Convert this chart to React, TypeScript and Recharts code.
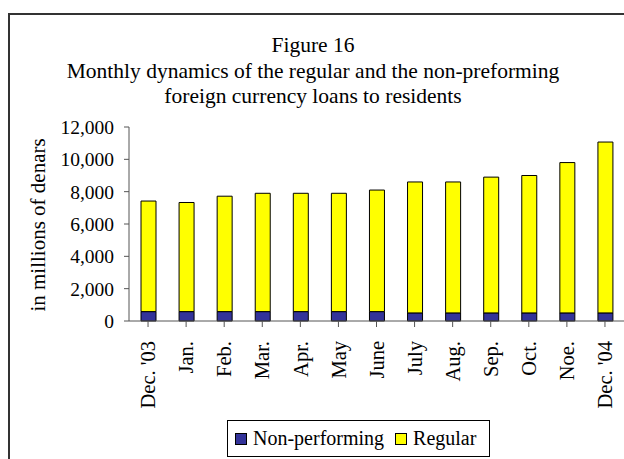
import { BarChart, Bar, XAxis, YAxis } from 'recharts';

const months = [
  "Dec. '03", 'Jan.', 'Feb.', 'Mar.', 'Apr.', 'May', 'June',
  'July', 'Aug.', 'Sep.', 'Oct.', 'Noe.', "Dec. '04",
];
const nonPerforming = [580, 580, 580, 580, 580, 580, 580, 500, 500, 500, 500, 500, 500];
const regular = [6840, 6750, 7140, 7320, 7320, 7320, 7520, 8100, 8100, 8400, 8500, 9300, 10570];
const yTicks = [0, 2000, 4000, 6000, 8000, 10000, 12000];

const data = months.map((month, i) => ({
  month,
  nonPerforming: nonPerforming[i],
  regular: regular[i],
}));

const FONT = '"Liberation Serif", "Times New Roman", serif';

const MonthTick = (props: any) => {
  const { x, y, payload } = props;
  return (
    <text
      x={x}
      y={y + 12}
      transform={`rotate(-90, ${x}, ${y + 12})`}
      textAnchor="end"
      dy="0.35em"
      fontFamily={FONT}
      fontSize={20.5}
      fill="#000"
    >
      {payload.value}
    </text>
  );
};

const YLabel = () => (
  <text
    x={38}
    y={225}
    transform="rotate(-90, 38, 225)"
    textAnchor="middle"
    dy="0.35em"
    fontFamily={FONT}
    fontSize={21}
    fill="#000"
  >
    in millions of denars
  </text>
);

const swatch = (color: string) => ({
  display: 'inline-block',
  width: 12,
  height: 12,
  background: color,
  border: '1px solid #000',
  boxSizing: 'border-box' as const,
});

const LegendBox = () => (
  <div
    style={{
      position: 'absolute',
      left: 227,
      top: 420,
      width: 263,
      height: 37,
      border: '1px solid #000',
      boxSizing: 'border-box',
      display: 'flex',
      alignItems: 'center',
      paddingLeft: 7,
      fontFamily: FONT,
      fontSize: 20,
      color: '#000',
      whiteSpace: 'nowrap',
    }}
  >
    <span style={swatch('#333399')} />
    <span style={{ marginLeft: 6, marginRight: 11 }}>Non-performing</span>
    <span style={swatch('#ffff00')} />
    <span style={{ marginLeft: 6 }}>Regular</span>
  </div>
);

export default function App() {
  return (
    <div style={{ position: 'absolute', left: 0, top: 0, width: 624, height: 459, overflow: 'hidden', background: '#fff' }}>
      <div
        style={{
          position: 'absolute',
          left: 8,
          top: 13,
          width: 640,
          height: 470,
          border: '2px solid #333',
          boxSizing: 'border-box',
        }}
      />
      <div
        style={{
          position: 'absolute',
          left: 0,
          top: 33,
          width: 626,
          textAlign: 'center',
          fontFamily: FONT,
          fontSize: 21.5,
          lineHeight: '25.5px',
          color: '#000',
          whiteSpace: 'nowrap',
        }}
      >
        Figure 16
        <br />
        Monthly dynamics of the regular and the non-preforming
        <br />
        foreign currency loans to residents
      </div>
      <div style={{ position: 'absolute', left: 0, top: 0 }}>
        <BarChart
          width={624}
          height={459}
          data={data}
          margin={{ top: 127, right: 0, left: 0, bottom: 48 }}
          barCategoryGap={0}
          barSize={15}
        >
          <XAxis
            dataKey="month"
            interval={0}
            height={90}
            tick={<MonthTick />}
            tickSize={6}
            axisLine={{ stroke: '#555' }}
            tickLine={{ stroke: '#555' }}
          />
          <YAxis
            width={129}
            domain={[0, 12000]}
            ticks={yTicks}
            interval={0}
            tickFormatter={(v: number) => v.toLocaleString('en-US')}
            tick={{ fontFamily: FONT, fontSize: 19.5, fill: '#000' }}
            tickSize={5}
            tickMargin={10}
            axisLine={{ stroke: '#555' }}
            tickLine={{ stroke: '#555' }}
            label={<YLabel />}
          />
          <Bar dataKey="nonPerforming" stackId="a" fill="#333399" stroke="#000" strokeWidth={1} isAnimationActive={false} />
          <Bar dataKey="regular" stackId="a" fill="#ffff00" stroke="#000" strokeWidth={1} isAnimationActive={false} />
        </BarChart>
      </div>
      <LegendBox />
    </div>
  );
}
